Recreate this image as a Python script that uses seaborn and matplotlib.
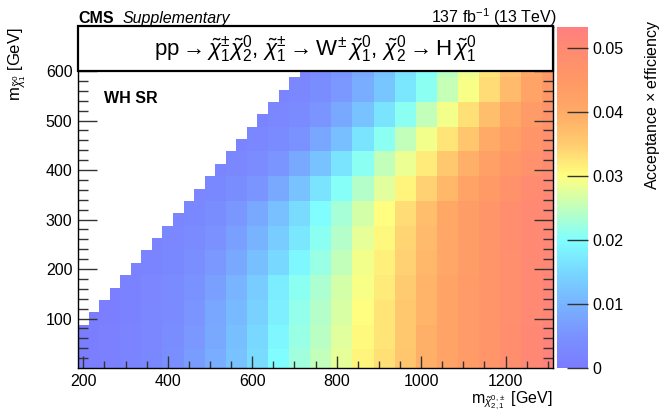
import numpy as np
import pandas as pd
import matplotlib
matplotlib.use("Agg")
import matplotlib.pyplot as plt
import seaborn as sns
from matplotlib.colors import LinearSegmentedColormap
from matplotlib.patches import Rectangle

# ---------------- data (acceptance x efficiency, in units of 1e-3) ----------------
N = None
# coarse blocks: 50 GeV in m(chi2/chi1pm) (columns) x 50 GeV in m(chi1^0) (rows)
block_mass_x = list(range(200, 1301, 50))    # lower edge mass of each column block
block_mass_y = list(range(0, 601, 50))       # lower edge mass of each row block
eff_rows = [
    [0.7, 1.2, 2, 3, 4.5, 6.5, 9, 12, 15.5, 19.8, 22.5, 25, 28, 31, 33, 36, 39, 42, 44, 46, 48.5, 50.5, 52],
    [0.6, 1.1, 1.8, 2.8, 4, 6, 8.5, 11.5, 15, 19, 22, 24.5, 27.5, 30.5, 32.5, 35.5, 39, 41.5, 44, 46, 48.5, 50.5, 52],
    [0.6, 1, 1.6, 2.5, 3.7, 5.5, 8, 11, 14, 18, 21.5, 24, 27, 30, 32.5, 35.5, 38.5, 41.5, 44, 46, 48, 50, 51.5],
    [N, 1.0, 1.5, 2.3, 3.5, 5, 7.2, 10, 13.5, 17.5, 21, 23.5, 26.5, 29.5, 32, 35, 38.5, 41.5, 44, 46, 48, 50, 51.5],
    [N, N, 1.4, 2, 3, 4.2, 6, 8.5, 11.5, 15, 19, 22, 25, 29, 31.5, 34.5, 38, 41, 43.5, 46, 48, 50, 51],
    [N, N, N, 1.8, 2.5, 3.5, 4.8, 7, 9.8, 13.5, 17, 21, 24, 28, 30.8, 34, 37.5, 41, 43.5, 46, 48.5, 50, 51],
    [N, N, N, N, 2.2, 3, 4, 5.8, 8.5, 11.7, 15.5, 19.8, 23, 26.5, 30, 33.5, 37, 40.5, 43.5, 46, 48.5, 50, 51],
    [N] * 5 + [2.3, 3, 4, 5.5, 8.5, 12, 16.5, 20.5, 24, 27.5, 31, 34.5, 38, 41.5, 44.5, 47, 49, 50],
    [N] * 6 + [2.2, 2.8, 3.8, 5.5, 8.5, 12, 16.5, 21, 25, 28.5, 32, 35.5, 39, 42.5, 45, 47.5, 49],
    [N] * 7 + [2.0, 2.5, 3.5, 5.2, 8, 11.5, 16.5, 21, 25, 29, 32.5, 36, 40, 43, 46, 48],
    [N] * 8 + [2.0, 2.5, 3.5, 5.5, 8.5, 12, 16.5, 21, 25, 29, 33, 37, 40.5, 44, 46.5],
    [N] * 9 + [2.0, 2.5, 4, 6, 9, 12.5, 17, 21, 25.5, 29.5, 33.5, 37.5, 42, 45],
    [N] * 10 + [2.2, 3.5, 5.5, 8.5, 12, 16.5, 20.5, 24.5, 28.5, 32.5, 36.5, 41, 44.5],
]
# scan points (25 GeV grid)
m_parent = list(range(200, 1301, 25))
m_lsp = list(range(0, 601, 25))
min_mass_gap = 125          # points exist for m_lsp <= m_parent - 125

xticks_major = [200, 400, 600, 800, 1000, 1200]
yticks_major = [100, 200, 300, 400, 500, 600]
cbar_ticks = [0, 0.01, 0.02, 0.03, 0.04, 0.05]
zmax = 0.0533

# ---------------- build table ----------------
coarse = np.array([[np.nan if v is None else v for v in r] for r in eff_rows], dtype=float)
fine = np.repeat(np.repeat(coarse, 2, axis=0), 2, axis=1)[:len(m_lsp), :len(m_parent)] * 1e-3
MX, MY = np.meshgrid(m_parent, m_lsp)
fine[MY > MX - min_mass_gap] = np.nan
df = pd.DataFrame(fine, index=m_lsp, columns=m_parent)

# ---------------- style ----------------
plt.rcParams['font.family'] = ['Liberation Sans', 'DejaVu Sans']
plt.rcParams['mathtext.fontset'] = 'custom'
plt.rcParams['mathtext.rm'] = 'Liberation Sans'
plt.rcParams['mathtext.it'] = 'Liberation Sans:italic'
plt.rcParams['mathtext.bf'] = 'Liberation Sans:bold'

palette_stops = [
    (0.000, "#7b7bff"),
    (0.005, "#7a92ff"),
    (0.010, "#78b4ff"),
    (0.015, "#78d8ff"),
    (0.020, "#80ffff"),
    (0.025, "#c0ffbc"),
    (0.030, "#ffff80"),
    (0.035, "#ffcc70"),
    (0.040, "#ffaa66"),
    (0.045, "#ff9866"),
    (0.050, "#ff8a72"),
    (zmax, "#ff7f7f"),
]
cmap = LinearSegmentedColormap.from_list("cmsrainbow", [(v / zmax, c) for v, c in palette_stops])

W, H = 662, 413
fig = plt.figure(figsize=(W / 100, H / 100), dpi=100)
L, R, T, B = 78, 553, 26.5, 368
ax = fig.add_axes([L / W, 1 - B / H, (R - L) / W, (B - T) / H])
cax = fig.add_axes([557 / W, 1 - B / H, 31 / W, (B - T) / H])

sns.heatmap(df, ax=ax, cbar_ax=cax, cmap=cmap, vmin=0, vmax=zmax,
            xticklabels=False, yticklabels=False,
            cbar_kws={"ticks": cbar_ticks})

x0, dx = m_parent[0] - 12.5, 25.0
y0, dy = m_lsp[0] - 12.5, 25.0
ux = lambda m: (np.asarray(m) - x0) / dx
vy = lambda m: (np.asarray(m) - y0) / dy
ytop = 690
ax.set_xlim(ux(187.5), ux(1312.5))
ax.set_ylim(vy(0), vy(ytop))
ax.set_facecolor("white")
for s in ax.spines.values():
    s.set_visible(True)
    s.set_color("black")
    s.set_linewidth(1.0)

ax.set_xticks(ux(xticks_major))
ax.set_xticklabels([str(v) for v in xticks_major])
ax.set_xticks(ux(list(range(200, 1301, 50))), minor=True)
ax.set_yticks(vy(yticks_major))
ax.set_yticklabels([str(v) for v in yticks_major])
ax.set_yticks(vy(list(range(20, 601, 20))), minor=True)
ax.tick_params(axis="x", which="major", direction="in", length=9, width=1, color="#333333",
               labelsize=11.5, pad=4, top=False)
ax.tick_params(axis="x", which="minor", direction="in", length=5, width=1, color="#333333", top=False)
ax.tick_params(axis="y", which="major", direction="in", length=14, width=1, color="#333333",
               labelsize=11.5, pad=4, right=True)
ax.tick_params(axis="y", which="minor", direction="in", length=7, width=1, color="#333333", right=True)
for lab in ax.get_yticklabels():
    lab.set_rotation(0)
ax.set_xlabel("")
ax.set_ylabel("")

# title box
ax.add_patch(Rectangle((ux(187.5), vy(600)), ux(1312.5) - ux(187.5), vy(ytop) - vy(600),
                       facecolor="white", edgecolor="black", lw=1.6, zorder=10, clip_on=False))
ax.text(ux(750), (vy(600) + vy(ytop)) / 2,
        r"$\mathrm{pp} \rightarrow \tilde{\chi}^{\pm}_{1}\tilde{\chi}^{0}_{2},\, \tilde{\chi}^{\pm}_{1} \rightarrow \mathrm{W}^{\pm}\,\tilde{\chi}^{0}_{1},\, \tilde{\chi}^{0}_{2} \rightarrow \mathrm{H}\,\tilde{\chi}^{0}_{1}$",
        ha="center", va="center", fontsize=16, zorder=11)

# colorbar
cb = ax.collections[0].colorbar
cb.outline.set_visible(False)
cax.yaxis.set_ticks_position("right")
cax.tick_params(direction="in", length=15, width=1, color="#333333", labelsize=11.5, pad=3)
cb.set_ticklabels(["0" if v == 0 else f"{v:g}" for v in cbar_ticks])
cax.minorticks_off()

# texts
fig.text(L / W, 1 - 23 / H, "CMS", fontsize=11.5, fontweight="bold", va="baseline", ha="left")
fig.text(123 / W, 1 - 23 / H, "Supplementary", fontsize=11.5, style="italic", va="baseline", ha="left")
fig.text(557 / W, 1 - 23 / H, r"137 fb$^{-1}$ (13 TeV)", fontsize=11.5, va="baseline", ha="right")
ax.text(ux(250), vy(545), "WH SR", fontsize=11.5, fontweight="bold", va="center", ha="left")
fig.text(R / W, 1 - 403 / H, r"m$_{\tilde{\chi}^{0,\pm}_{2,1}}$ [GeV]", fontsize=11.5, ha="right", va="baseline")
fig.text(17 / W, 1 - 27 / H, r"m$_{\tilde{\chi}^{0}_{1}}$ [GeV]", fontsize=12, rotation=90, ha="center", va="top")
fig.text(652 / W, 1 - 20 / H, r"Acceptance $\times$ efficiency", fontsize=11.5, rotation=90, ha="center", va="top")

fig.savefig("out.png", dpi=100)
